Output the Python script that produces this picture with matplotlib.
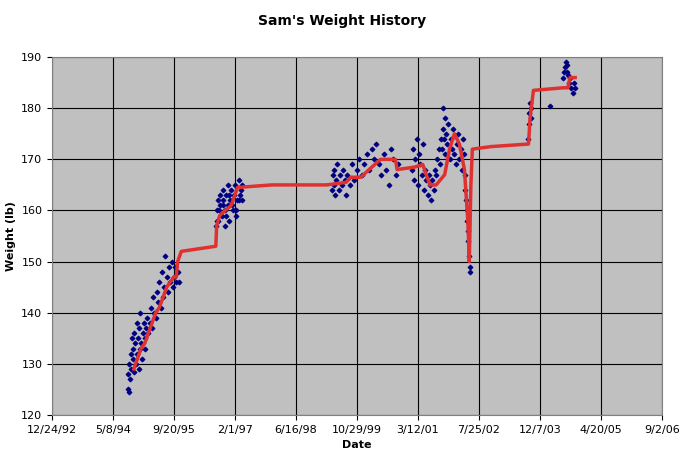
import matplotlib
matplotlib.use("Agg")
import matplotlib.pyplot as plt
import matplotlib.dates as mdates
import datetime as dt
import numpy as np

# days since 1992-12-24
scatter_days = [620,625,630,635,640,645,650,655,660,665,670,675,680,690,695,700,705,710,715,720,725,730,740,745,750,760,765,770,780,790,800,810,820,830,840,850,860,870,880,890,900,910,920,930,940,950,960,970,980,990,1000,1010,1020,1030,1040,
    1345,1350,1360,1365,1375,1380,1390,1400,1405,1415,1420,1430,1440,1445,1455,1460,1470,1480,1490,1500,1510,1520,1530,1540,1550,1560,1352,1372,1398,1425,1450,1475,1505,1535,1555,
    2300,2305,2310,2315,2320,2330,2340,2350,2360,2380,2390,2400,2410,2420,2440,2460,2480,2500,2520,2540,2560,2580,2600,2620,2640,2660,2680,2700,2720,2740,2760,2780,2800,2820,2840,
    2950,2960,2970,2980,2990,3000,3010,3020,3030,3040,3050,3060,3070,3080,3090,3100,3110,3120,3130,3140,3150,3160,3170,3180,3190,
    3200,3205,3210,3215,3220,3225,3230,3240,3250,3260,3270,3280,3290,3300,3310,3320,3330,3340,3350,3360,3370,3375,
    3385,3390,3395,3400,3405,3410,3415,3420,3425,3428,
    3905,3910,3915,3920,3925,3930,4080,
    4190,4200,4210,4215,4220,4225,4230,4240,4250,4260,4270,4280,4290]
scatter_weights = [125,128,124.5,130,127,132,129,135,131,133,128.5,136,134,130,138,132,135,129,137,133,140,134,131,136,138,133,135,137,139,136,138,141,137,143,140,139,144,142,146,141,148,143,145,151,147,144,149,146,150,145,147,149,146,148,146,
    157,160,162,158,161,163,159,162,164,157,160,163,165,161,158,162,164,160,163,165,159,162,166,163,164,162,158,160,161,159,163,161,160,162,165,
    164,167,165,168,163,166,169,164,167,165,168,166,163,167,165,169,166,168,170,167,169,171,168,172,170,173,169,167,171,168,165,172,170,167,169,
    168,172,166,170,174,165,171,169,167,173,164,168,166,163,167,165,162,166,164,168,167,170,172,169,174,
    172,176,180,174,178,171,175,173,177,170,174,172,176,171,169,173,175,170,172,168,174,171,
    167,164,162,160,158,156,154,151,149,148,
    174,177,179,181,178,180,180.5,
    186,187,188,189,188.5,187,186.5,185,186,184,183,185,184]

avg_days = [671,700,730,760,790,820,850,880,910,940,970,1000,1019,1030,1060,1200,1343,1350,1375,1420,1470,1521,1800,2249,2411,2451,2532,2600,2694,2816,2830,2977,3040,3099,3150,3220,3260,3300,3341,3382,3410,3422,3435,3447,3600,3908,3920,3948,4191,4230,4248,4290]
avg_weights = [129,131,133,134,136,138,140,141,143,145,146,147,147,150,152,152.5,153,157,159,160,161,164.5,165,165,165.5,166.5,166.5,168,170,170,168,168.5,169,165,165,167,172,175,173,168,158,150,165,172,172.5,173,178,183.5,184,184,186,186]

base = mdates.date2num(dt.datetime(1992, 12, 24))

fig = plt.figure(figsize=(6.85, 4.57), dpi=100)
ax = fig.add_axes([0.076, 0.092, 0.89, 0.783])
ax.set_facecolor('#c0c0c0')
ax.scatter(base + np.array(scatter_days), scatter_weights, marker='D', s=5, color='#000080', zorder=3)
ax.plot(base + np.array(avg_days), avg_weights, color='#e03030', lw=2.5, zorder=4)

ticks = [base + 500 * k for k in range(11)]
ax.set_xticks(ticks)
ax.set_xticklabels([f"{d.month}/{d.day}/{d.strftime('%y')}" for d in (mdates.num2date(t) for t in ticks)], fontsize=8)
ax.set_xlim(ticks[0], ticks[-1])
ax.set_ylim(120, 190)
ax.set_yticks(range(120, 191, 10))
ax.tick_params(labelsize=8)
ax.grid(True, color='black', lw=0.8)
ax.set_axisbelow(True)
for s in ax.spines.values():
    s.set_color('#808080')
ax.set_xlabel('Date', fontsize=8, fontweight='bold')
ax.set_ylabel('Weight (lb)', fontsize=8, fontweight='bold')
fig.suptitle("Sam's Weight History", y=0.97, fontsize=10, fontweight='bold')
fig.savefig('out.png')
